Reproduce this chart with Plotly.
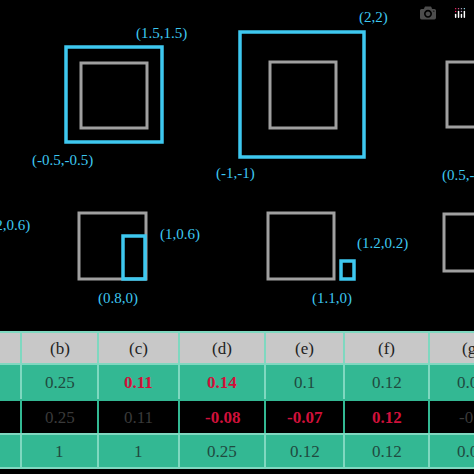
import plotly.graph_objects as go

# Box panels (pixel space of a 474x474 canvas, y downward)
GRAY_BOXES = [(81, 63, 147, 128), (270, 62, 336, 128), (447, 62, 520, 127),
              (79, 213, 146, 279), (268, 213, 334, 279), (444, 214, 520, 271)]
BLUE_BOXES = [(66, 47, 162, 142), (240, 32, 364, 157), (123, 236, 145, 279), (341, 261, 354, 279)]
BOX_LABELS = ["(1.5,1.5)", "(-0.5,-0.5)", "(2,2)", "(-1,-1)", "(0.5,-0.5)",
              "(0.2,0.6)", "(1,0.6)", "(0.8,0)", "(1.2,0.2)", "(1.1,0)"]
LABEL_POS = [(161, 33), (62, 160), (373, 17), (235, 173), (470, 175),
             (4, 225), (180, 234), (118, 298), (382, 243), (332, 298)]

# Table
HEADERS = ["(a)", "(b)", "(c)", "(d)", "(e)", "(f)", "(g)"]
ROW1 = ["0.2", "0.25", "0.11", "0.14", "0.1", "0.12", "0.09"]
ROW2 = ["0.2", "0.25", "0.11", "-0.08", "-0.07", "0.12", "-0.9"]
ROW3 = ["1", "1", "1", "0.25", "0.12", "0.12", "0.09"]
ROW1_RED = [False, False, True, True, False, False, False]
ROW2_RED = [False, False, False, True, True, True, False]
COL_EDGES = [-60, 21, 98, 179, 265, 344, 429, 515]
ROW_EDGES = [332, 364, 400, 434, 468]

BLUE = "#3ec8f0"
GRAY = "#a0a0a0"
GREEN = "#33b893"
RED = "#d0103a"
FONT = "Liberation Serif"

fig = go.Figure()
shapes, annots = [], []

for x0, y0, x1, y1 in GRAY_BOXES:
    shapes.append(dict(type="rect", x0=x0, y0=y0, x1=x1, y1=y1, line=dict(color=GRAY, width=3)))
for x0, y0, x1, y1 in BLUE_BOXES:
    shapes.append(dict(type="rect", x0=x0, y0=y0, x1=x1, y1=y1, line=dict(color=BLUE, width=3.5)))
for t, (x, y) in zip(BOX_LABELS, LABEL_POS):
    annots.append(dict(x=x, y=y, text=t, showarrow=False, font=dict(family=FONT, size=15, color=BLUE)))

fills = ["#c8c8c8", GREEN, "#000000", GREEN]
rows = [HEADERS, ROW1, ROW2, ROW3]
for r in range(4):
    for c in range(len(COL_EDGES) - 1):
        shapes.append(dict(type="rect", x0=COL_EDGES[c], x1=COL_EDGES[c + 1],
                           y0=ROW_EDGES[r], y1=ROW_EDGES[r + 1], fillcolor=fills[r],
                           line=dict(color="#7fd8c0" if r != 2 else GREEN, width=2), layer="below"))
        text = rows[r][c]
        bold = (r == 1 and ROW1_RED[c]) or (r == 2 and ROW2_RED[c])
        if bold:
            color = RED
            text = "<b>" + text + "</b>"
        elif r == 2:
            color = "#3a3a3a"
        elif r == 0:
            color = "#222222"
        else:
            color = "#1f4a3f"
        annots.append(dict(x=(COL_EDGES[c] + COL_EDGES[c + 1]) / 2,
                           y=(ROW_EDGES[r] + ROW_EDGES[r + 1]) / 2, text=text, showarrow=False,
                           font=dict(family=FONT, size=17, color=color)))

fig.update_layout(
    width=474, height=474, margin=dict(l=0, r=0, t=0, b=0),
    paper_bgcolor="black", plot_bgcolor="black",
    xaxis=dict(range=[0, 474], visible=False, fixedrange=True),
    yaxis=dict(range=[474, 0], visible=False, fixedrange=True),
    shapes=shapes, annotations=annots, showlegend=False,
)
fig.write_html("out.html", post_script="document.body.style.margin='0';document.body.style.background='black';")
